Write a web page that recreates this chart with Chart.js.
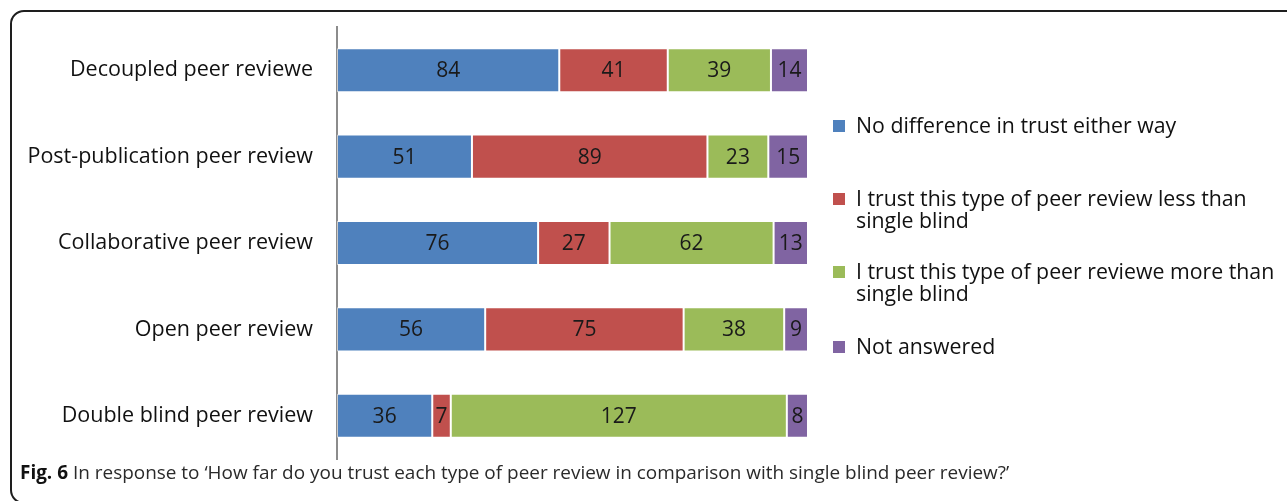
<!DOCTYPE html>
<html>
<head>
<meta charset="utf-8">
<script src="https://cdn.jsdelivr.net/npm/chart.js@4/dist/chart.umd.min.js"></script>
<style>
  html, body { margin: 0; padding: 0; background: #fff; }
  body { width: 1287px; height: 501px; position: relative; overflow: hidden; font-family: "Open Sans", sans-serif; }
  #frame { position: absolute; left: 10px; top: 10px; width: 1300px; height: 490px; border: 2px solid #1e1e1e; border-radius: 14px; }
  #wrap { position: absolute; left: 0; top: 0; width: 1287px; height: 501px; }
  #legend { position: absolute; left: 0; top: 0; }
  .item { position: absolute; left: 833px; white-space: nowrap; font-size: 21.3px; line-height: 22px; color: #111; }
  .item .sw { position: absolute; left: 0; top: 5px; width: 12px; height: 12px; }
  .item .tx { position: absolute; left: 23px; top: -1px; }
  #caption { position: absolute; left: 20px; top: 459px; font-family: "Open Sans", sans-serif; font-size: 18.95px; color: #2a2a2a; white-space: nowrap; }
  #caption b { font-weight: 700; color: #111; }
</style>
</head>
<body>
<div id="frame"></div>
<div id="wrap"><canvas id="c" width="1287" height="501"></canvas></div>
<div id="legend"></div>
<div id="caption"><b>Fig. 6</b> In response to ‘How far do you trust each type of peer review in comparison with single blind peer review?’</div>
<script>
// Peer review types and response counts per answer
const categories = [
  'Decoupled peer reviewe',
  'Post-publication peer review',
  'Collaborative peer review',
  'Open peer review',
  'Double blind peer review'
];
const seriesNames = [
  ['No difference in trust either way'],
  ['I trust this type of peer review less than', 'single blind'],
  ['I trust this type of peer reviewe more than', 'single blind'],
  ['Not answered']
];
const noDifference = [84, 51, 76, 56, 36];
const trustLess    = [41, 89, 27, 75, 7];
const trustMore    = [39, 23, 62, 38, 127];
const notAnswered  = [14, 15, 13, 9, 8];
const seriesColors = ['#4f81bd', '#c0504d', '#9bbb59', '#8064a2'];

const seriesValues = [noDifference, trustLess, trustMore, notAnswered];
const totalMax = 178;

// Value labels centred in each bar segment
const segmentLabels = {
  id: 'segmentLabels',
  afterDatasetsDraw(chart) {
    const ctx = chart.ctx;
    ctx.save();
    ctx.font = '21px "Open Sans", sans-serif';
    ctx.fillStyle = '#1a1a1a';
    ctx.textAlign = 'center';
    ctx.textBaseline = 'middle';
    chart.data.datasets.forEach((ds, di) => {
      chart.getDatasetMeta(di).data.forEach((bar, i) => {
        const p = bar.getProps(['x', 'base', 'y'], true);
        ctx.fillText(String(ds.data[i]), (p.x + p.base) / 2, p.y + 1);
      });
    });
    ctx.restore();
  }
};

const chart = new Chart(document.getElementById('c'), {
  type: 'bar',
  data: {
    labels: categories,
    datasets: seriesValues.map((vals, k) => ({
      label: seriesNames[k].join(' '),
      data: vals,
      backgroundColor: seriesColors[k],
      borderColor: 'rgba(255,255,255,0.55)',
      borderWidth: 1,
      borderSkipped: false,
      categoryPercentage: 1,
      barPercentage: 0.51
    }))
  },
  options: {
    indexAxis: 'y',
    responsive: false,
    animation: false,
    layout: { padding: { left: 20, top: 27, right: 479, bottom: 42 } },
    plugins: { legend: { display: false }, tooltip: { enabled: false } },
    scales: {
      x: { stacked: true, min: 0, max: totalMax, display: false },
      y: {
        stacked: true,
        afterFit(scale) { scale.width = 317; },
        // invisible tick marks keep the labels clear of the axis line
        grid: { display: true, drawOnChartArea: false, drawTicks: true, tickLength: 24, tickColor: 'rgba(0,0,0,0)' },
        border: { display: true, color: '#8c8c8c', width: 2 },
        ticks: { padding: 0, color: '#111', font: { family: '"Open Sans", sans-serif', size: 21.5 } }
      }
    }
  },
  plugins: [segmentLabels]
});

// Legend built from the same series names and colours
const legend = document.getElementById('legend');
const itemTops = [115, 188, 261, 336];
seriesNames.forEach((lines, k) => {
  const item = document.createElement('div');
  item.className = 'item';
  item.style.top = itemTops[k] + 'px';
  const sw = document.createElement('div');
  sw.className = 'sw';
  sw.style.background = seriesColors[k];
  const tx = document.createElement('div');
  tx.className = 'tx';
  tx.innerHTML = lines.join('<br>');
  item.appendChild(sw);
  item.appendChild(tx);
  legend.appendChild(item);
});
</script>
</body>
</html>
